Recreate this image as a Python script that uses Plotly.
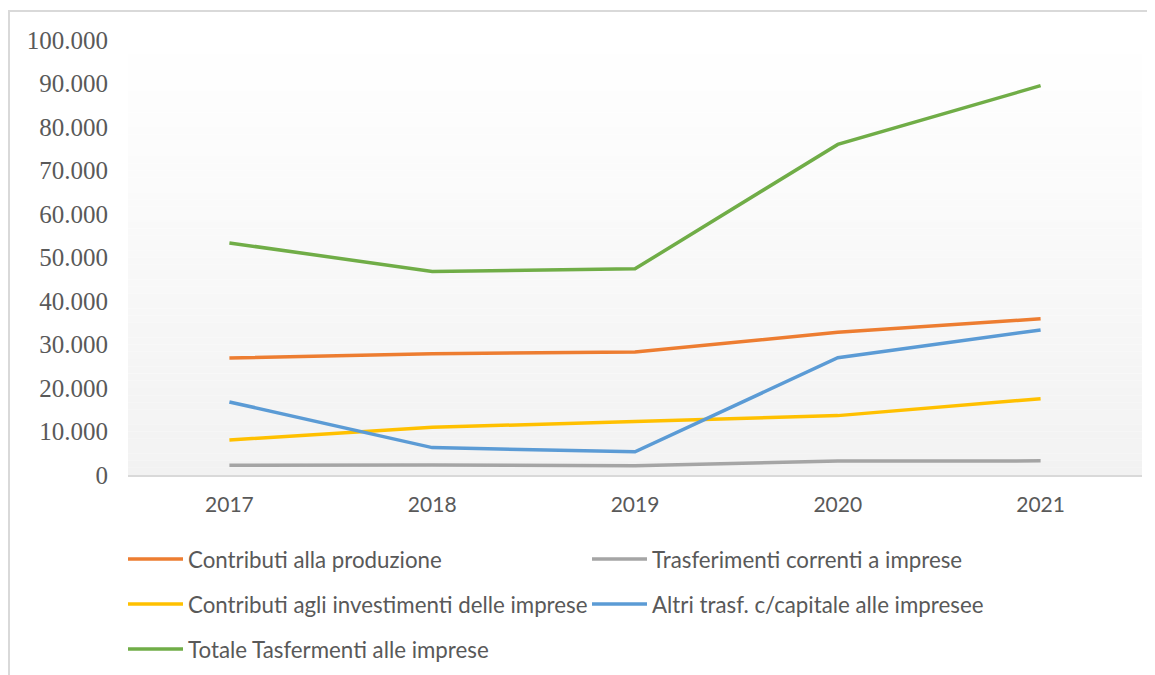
import plotly.graph_objects as go

years = ["2017", "2018", "2019", "2020", "2021"]

contributi_produzione = [26900, 27900, 28300, 32800, 35900]
trasferimenti_correnti = [2250, 2300, 2100, 3200, 3250]
contributi_investimenti = [8050, 10950, 12300, 13650, 17550]
altri_trasf_capitale = [16800, 6300, 5350, 26950, 33350]
totale_trasferimenti = [53350, 46800, 47400, 76000, 89500]

series = [
    ("Contributi alla produzione", contributi_produzione, "#ED7D31", "legend"),
    ("Trasferimenti correnti a imprese", trasferimenti_correnti, "#A5A5A5", "legend"),
    ("Contributi agli investimenti delle imprese", contributi_investimenti, "#FFC000", "legend2"),
    ("Altri trasf. c/capitale alle impresee", altri_trasf_capitale, "#5B9BD5", "legend2"),
    ("Totale Tasfermenti alle imprese", totale_trasferimenti, "#70AD47", "legend3"),
]

y_ticks = list(range(0, 100001, 10000))
y_labels = [f"{v:,}".replace(",", ".") for v in y_ticks]

# page body adds an 8px offset, so figure coords = screen coords - 8
OFF = 8
W, H = 1155, 675
L, T = 128 - OFF, 40 - OFF
R, B = W - (1142 - OFF), H - (475 - OFF)
pw, ph = W - L - R, H - T - B

fig = go.Figure()
for name, vals, color, leg in series:
    fig.add_trace(go.Scatter(x=years, y=vals, name=name, mode="lines",
                             line=dict(color=color, width=3.5), legend=leg))

# gradient background of the plot area
shapes = []
n = 60
for i in range(n):
    t = (i + 0.5) / n
    c = round(255 - (255 - 242) * t)
    shapes.append(dict(type="rect", xref="x domain", yref="y domain",
                       x0=0, x1=1, y0=1 - (i + 1) / n, y1=1 - i / n,
                       fillcolor=f"rgb({c},{c},{c})", line=dict(width=0), layer="below"))
# outer chart border
shapes.append(dict(type="rect", xref="paper", yref="paper",
                   x0=(9 - OFF - L) / pw, x1=(W + 20 - L) / pw,
                   y0=-(H + 20 - T - ph) / ph, y1=1 + (T - (11 - OFF)) / ph,
                   line=dict(color="#d9d9d9", width=2), fillcolor="rgba(0,0,0,0)"))

leg_font = dict(family="Lato", size=22.3, color="#595959")
def legend_at(ypix):
    return dict(orientation="h", xref="container", yref="container",
                x=(123 - OFF) / W, xanchor="left", y=1 - (ypix - OFF) / H, yanchor="middle",
                font=leg_font, entrywidth=394, entrywidthmode="pixels", itemwidth=55,
                bgcolor="rgba(0,0,0,0)", traceorder="normal")

fig.update_layout(
    width=W, height=H,
    margin=dict(l=L, r=R, t=T, b=B, autoexpand=False),
    paper_bgcolor="white", plot_bgcolor="rgba(0,0,0,0)",
    shapes=shapes,
    showlegend=True,
    legend=legend_at(559),
    legend2=legend_at(604),
    legend3=legend_at(649),
    xaxis=dict(type="category", range=[-0.5, 4.5], showgrid=False, zeroline=False,
               showline=True, linecolor="#d9d9d9", linewidth=2, ticks="",
               ticklabelstandoff=10, automargin=False,
               tickfont=dict(family="Lato", size=21, color="#595959")),
    yaxis=dict(range=[0, 100000], tickvals=y_ticks, ticktext=y_labels, showgrid=False,
               zeroline=False, showline=False, ticks="", ticklabelstandoff=19,
               automargin=False,
               tickfont=dict(family="Liberation Serif", size=25, color="#595959")),
)

fig.write_html("out.html")
